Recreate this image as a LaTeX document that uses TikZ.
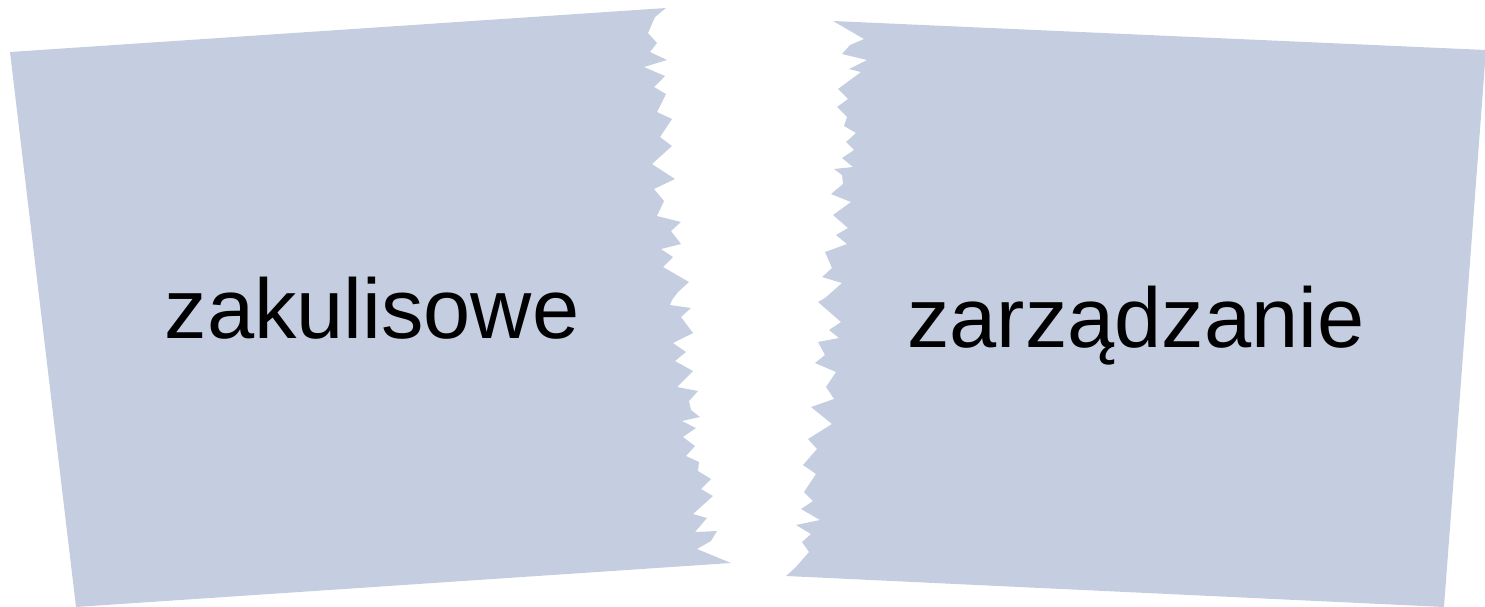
\documentclass[tikz,border=0pt]{standalone}
\usepackage{fontspec}
\setmainfont{Liberation Sans}
\usepackage{tikz}
\definecolor{paperblue}{RGB}{197,206,225}
\tikzstyle{paper} = [fill=paperblue, draw=none]
\tikzstyle{word} = [anchor=base, inner sep=0pt, font=\fontsize{42.4pt}{50pt}\selectfont]

\begin{document}
\begin{tikzpicture}[x=0.5pt, y=-0.5pt]

\clip (0,0) rectangle (1485,606);

% left piece
\fill [paper] (10,52) -- (666,8) -- (655,17) -- (648,33) -- (657,43) -- (650,52) -- (667,60) -- (644,67)
  -- (665,76) -- (654,87) -- (666,94) -- (657,112) -- (672,119) -- (660,137) -- (672,146) -- (652,164)
  -- (675,179) -- (654,189) -- (664,201) -- (657,216) -- (681,222) -- (671,231) -- (681,244) -- (661,249)
  -- (673,257) -- (663,267) -- (689,282) -- (678,292) -- (672,300) -- (670,305) -- (691,308) -- (681,317)
  -- (693,333) -- (673,343) -- (686,352) -- (675,361) -- (693,371) -- (677,387) -- (698,391) -- (689,401)
  -- (691,410) -- (700,417) -- (682,421) -- (696,428) -- (683,437) -- (695,446) -- (686,456) -- (699,462)
  -- (698,471) -- (711,479) -- (701,489) -- (713,496) -- (693,514) -- (707,518) -- (695,532) -- (717,531)
  -- (711,541) -- (697,549) -- (731,563) -- (76,607) -- cycle;

% right piece
\fill [paper] (833,21) -- (1486,50) -- (1444,607) -- (786,576) -- (795,568) -- (809,552) -- (802,542)
  -- (811,534) -- (796,525) -- (820,520) -- (801,509) -- (813,501) -- (804,492) -- (816,474) -- (803,465)
  -- (817,449) -- (808,439) -- (832,424) -- (811,407) -- (834,399) -- (826,387) -- (836,372) -- (815,363)
  -- (825,355) -- (818,342) -- (839,338) -- (829,330) -- (841,322) -- (818,302) -- (825,298) -- (842,283)
  -- (822,277) -- (832,268) -- (825,252) -- (847,244) -- (836,235) -- (848,228) -- (833,215) -- (851,202)
  -- (831,194) -- (843,184) -- (842,175) -- (834,169) -- (853,167) -- (842,158) -- (854,150) -- (846,142)
  -- (856,133) -- (844,126) -- (847,117) -- (837,107) -- (848,99) -- (838,89) -- (861,72) -- (849,69)
  -- (867,60) -- (842,54) -- (850,45) -- (864,39) -- cycle;

\node (backstage) [word] at (372,338) {zakulisowe};
\node (management) [word] at (1136,347) {zarządzanie};

\end{tikzpicture}
\end{document}
